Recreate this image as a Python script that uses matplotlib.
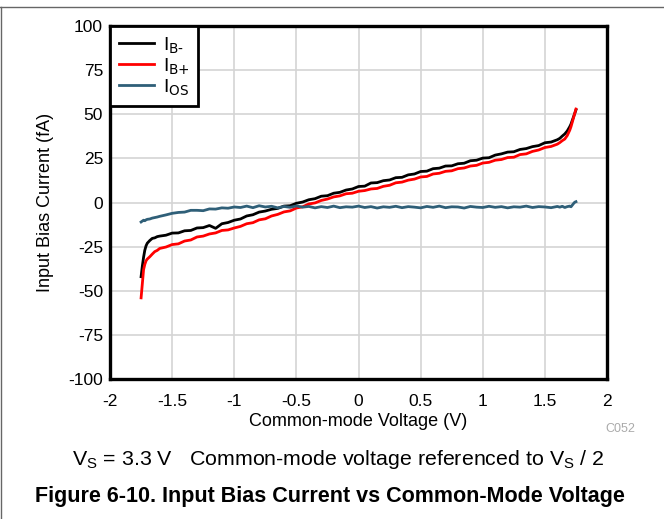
import matplotlib
matplotlib.use('Agg')
import matplotlib.pyplot as plt
from matplotlib.lines import Line2D

plt.rcParams['font.family'] = ['Liberation Sans', 'DejaVu Sans']
plt.rcParams['mathtext.default'] = 'regular'
plt.rcParams['axes.unicode_minus'] = False

# 共模电压 (V)
vcm = [-1.75, -1.74, -1.73, -1.72, -1.71, -1.70, -1.68, -1.66, -1.64, -1.62, -1.60,
       -1.55, -1.50, -1.45, -1.40, -1.35, -1.30, -1.25, -1.20, -1.15, -1.10, -1.05,
       -1.00, -0.95, -0.90, -0.85, -0.80, -0.75, -0.70, -0.65, -0.60, -0.55, -0.50,
       -0.45, -0.40, -0.35, -0.30, -0.25, -0.20, -0.15, -0.10, -0.05, 0.00,
       0.05, 0.10, 0.15, 0.20, 0.25, 0.30, 0.35, 0.40, 0.45, 0.50,
       0.55, 0.60, 0.65, 0.70, 0.75, 0.80, 0.85, 0.90, 0.95, 1.00,
       1.05, 1.10, 1.15, 1.20, 1.25, 1.30, 1.35, 1.40, 1.45, 1.50, 1.55, 1.60,
       1.62, 1.64, 1.66, 1.68, 1.70, 1.71, 1.72, 1.73, 1.74, 1.75]

# I_B- (fA)
ib_minus = [-42.0, -36.0, -31.0, -27.0, -24.5, -23.0, -21.5, -20.3, -20.0, -19.3, -19.0,
            -18.5, -17.3, -17.2, -16.0, -15.8, -14.4, -14.2, -13.0, -14.6, -12.0, -11.3,
            -10.0, -9.3, -7.6, -6.9, -5.4, -4.8, -3.8, -3.3, -2.0, -1.8, -0.4,
            0.3, 1.6, 2.2, 3.6, 3.9, 5.3, 5.8, 7.1, 7.7, 9.1,
            9.3, 11.1, 11.3, 12.4, 12.8, 14.1, 14.3, 15.7, 16.2, 17.6,
            17.8, 19.2, 19.5, 20.7, 20.8, 22.0, 22.3, 23.7, 24.0, 25.2,
            25.4, 26.9, 27.6, 28.6, 28.8, 30.1, 30.6, 31.7, 32.3, 33.9, 34.3, 35.6,
            36.4, 37.7, 38.9, 40.6, 43.0, 44.5, 46.5, 48.5, 50.5, 52.5]

# I_B+ (fA)
ib_plus = [-54.0, -46.0, -38.0, -35.0, -33.0, -32.0, -30.7, -29.2, -27.8, -27.1, -26.0,
           -25.2, -23.8, -23.4, -21.8, -21.2, -19.5, -19.0, -17.8, -17.2, -15.8, -15.5,
           -14.4, -13.5, -12.0, -11.4, -9.8, -9.2, -7.6, -6.7, -5.3, -4.7, -3.1,
           -2.4, -0.8, -0.2, 1.2, 2.0, 3.2, 3.8, 5.0, 5.3, 6.4,
           6.8, 7.7, 8.0, 9.2, 9.8, 11.2, 11.6, 12.7, 13.3, 14.5,
           14.8, 16.2, 16.6, 17.7, 18.0, 19.2, 19.6, 20.7, 21.1, 22.4,
           22.8, 24.0, 24.4, 25.5, 25.7, 27.2, 27.6, 29.0, 29.8, 31.2, 31.8, 33.1,
           34.0, 35.1, 36.0, 38.0, 41.0, 43.0, 45.5, 48.0, 50.5, 53.0]

# I_OS (fA)
ios = [-11.0, -10.5, -10.0, -10.3, -9.8, -9.5, -9.3, -8.8, -8.5, -8.2, -7.8,
       -7.0, -6.1, -5.6, -5.4, -4.4, -4.4, -4.6, -3.6, -3.7, -3.0, -3.2,
       -2.5, -2.8, -2.0, -2.9, -1.8, -2.5, -2.1, -3.0, -2.2, -2.7, -1.9,
       -2.6, -2.2, -3.0, -2.3, -2.8, -2.0, -2.9, -2.4, -2.6, -2.0,
       -2.8, -2.3, -3.1, -2.4, -2.7, -2.1, -2.9, -2.3, -2.6, -3.0,
       -2.2, -2.7, -2.0, -2.9, -2.4, -2.5, -3.1, -2.2, -2.6, -2.8,
       -2.1, -2.7, -2.3, -3.0, -2.4, -2.6, -2.0, -2.8, -2.3, -2.5, -2.9, -2.2,
       -2.6, -2.1, -2.8, -2.3, -2.0, -2.4, -1.5, -0.6, 0.2, 0.5]

xticks = [-2, -1.5, -1, -0.5, 0, 0.5, 1, 1.5, 2]
xticklabels = ['-2', '-1.5', '-1', '-0.5', '0', '0.5', '1', '1.5', '2']
yticks = [-100, -75, -50, -25, 0, 25, 50, 75, 100]

fig = plt.figure(figsize=(6.64, 5.19), dpi=100)
ax = fig.add_axes([0.1657, 0.2697, 0.7485, 0.680])

ax.plot(vcm, ib_minus, color='black', lw=2.0, label=r'I$_{\text{B-}}$', zorder=3)
ax.plot(vcm, ib_plus, color='#ff0000', lw=2.0, label=r'I$_{\text{B+}}$', zorder=3)
ax.plot(vcm, ios, color='#2f5f78', lw=2.0, label=r'I$_{\text{OS}}$', zorder=3)

ax.set_xlim(-2, 2)
ax.set_ylim(-100, 100)
ax.set_xticks(xticks)
ax.set_xticklabels(xticklabels)
ax.set_yticks(yticks)
ax.tick_params(length=0, labelsize=12.5)
ax.tick_params(axis='x', pad=11)
ax.tick_params(axis='y', pad=5)
ax.grid(True, color='#d4d4d4', lw=1.2)
ax.set_axisbelow(True)
for s in ax.spines.values():
    s.set_linewidth(2.4)
    s.set_color('black')

ax.set_xlabel('Common-mode Voltage (V)', fontsize=13, labelpad=3)
ax.set_ylabel('Input Bias Current (fA)', fontsize=13, labelpad=10)

leg = ax.legend(loc='upper left', bbox_to_anchor=(0, 1), borderaxespad=0,
                fancybox=False, framealpha=1, edgecolor='black', fontsize=14,
                handlelength=1.8, handletextpad=0.45, labelspacing=0.05,
                borderpad=0.45)
leg.get_frame().set_linewidth(2.0)

fig.text(0.934, 0.173, 'C052', fontsize=9, color='#aaaaaa', ha='center', va='center')
fig.text(0.51, 0.1137, r'V$_{S}$ = 3.3 V   Common-mode voltage referenced to V$_{S}$ / 2',
         fontsize=15.4, ha='center', va='center')
fig.text(0.497, 0.0424, 'Figure 6-10. Input Bias Current vs Common-Mode Voltage',
         fontsize=15.5, fontweight='bold', ha='center', va='center')

# 外框线
fig.add_artist(Line2D([0, 1], [0.987, 0.987], transform=fig.transFigure, color='#666666', lw=1))
fig.add_artist(Line2D([0.001, 0.001], [0, 0.987], transform=fig.transFigure, color='#666666', lw=1))

fig.savefig('out.png', dpi=100)
